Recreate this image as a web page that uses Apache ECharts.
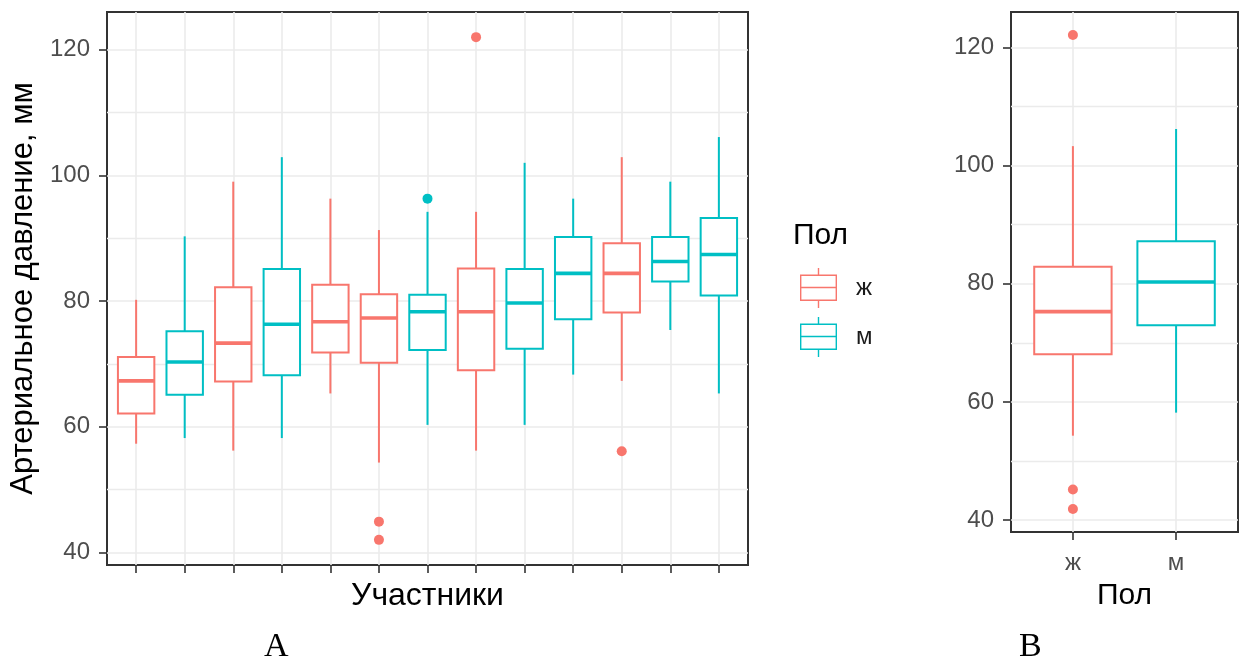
<!DOCTYPE html>
<html>
<head>
<meta charset="utf-8">
<script src="https://cdn.jsdelivr.net/npm/echarts@6/dist/echarts.min.js"></script>
<style>
html,body{margin:0;padding:0;background:#fff;}
#chart{width:1248px;height:663px;}
</style>
</head>
<body>
<div id="chart"></div>
<script>
// ---------- Data ----------
// Panel A: participants (13 boxes), sex of each participant
const groupA = ['ж','м','ж','м','ж','ж','м','ж','м','м','ж','м','м'];
const lowA   = [57.3, 58.2, 56.2, 58.2, 65.3, 54.3, 60.3, 56.2, 60.3, 68.3, 67.3, 75.4, 65.3];
const q1A    = [62.1, 65.1, 67.2, 68.2, 71.8, 70.2, 72.2, 69.0, 72.4, 77.1, 78.2, 83.1, 80.9];
const medA   = [67.3, 70.3, 73.3, 76.3, 76.7, 77.3, 78.3, 78.3, 79.7, 84.4, 84.4, 86.3, 87.4];
const q3A    = [71.1, 75.2, 82.2, 85.1, 82.6, 81.1, 81.0, 85.2, 85.1, 90.2, 89.2, 90.2, 93.2];
const highA  = [80.2, 90.3, 99.0, 102.9, 96.3, 91.3, 94.2, 94.2, 102.0, 96.3, 102.9, 99.0, 106.1];
const outIdxA = [5, 5, 6, 7, 10];
const outValA = [44.9, 42.0, 96.3, 122.0, 56.1];

// Panel B: by sex
const sexes  = ['ж','м'];
const lowB   = [54.3, 58.2];
const q1B    = [68.1, 73.0];
const medB   = [75.3, 80.3];
const q3B    = [82.9, 87.2];
const highB  = [103.3, 106.2];
const outIdxB = [0, 0, 0];
const outValB = [122.1, 45.2, 41.9];

const yMajorTicks = [40, 60, 80, 100, 120];
const yMinorTicks = [50, 70, 90, 110];
const yMin = 38, yMax = 126;

// ---------- Styles ----------
const COLORS = {'ж': '#F8766D', 'м': '#00BFC4'};
const FONT = 'Liberation Sans, Arial, sans-serif';
const GRID_COLOR = '#EBEBEB';
const BOX_W = 0.75;

function boxData(xs, lo, q1, md, q3, hi, groups, g) {
  const out = [];
  xs.forEach((x, i) => {
    if (groups[i] === g) out.push([x, lo[i], q1[i], md[i], q3[i], hi[i]]);
  });
  return out;
}
function outData(idx, vals, groups, g) {
  const out = [];
  idx.forEach((x, i) => { if (groups[x] === g) out.push([x, vals[i]]); });
  return out;
}

function renderBox(params, api) {
  const x = api.value(0);
  const lo = api.coord([x, api.value(1)]);
  const q1 = api.coord([x, api.value(2)]);
  const md = api.coord([x, api.value(3)]);
  const q3 = api.coord([x, api.value(4)]);
  const hi = api.coord([x, api.value(5)]);
  const half = api.size([BOX_W, 0])[0] / 2;
  const color = api.visual('color');
  return {
    type: 'group',
    children: [
      {type: 'line', shape: {x1: lo[0], y1: lo[1], x2: q1[0], y2: q1[1]}, style: {stroke: color, lineWidth: 2}},
      {type: 'line', shape: {x1: q3[0], y1: q3[1], x2: hi[0], y2: hi[1]}, style: {stroke: color, lineWidth: 2}},
      {type: 'rect', shape: {x: q3[0] - half, y: q3[1], width: 2 * half, height: q1[1] - q3[1]},
        style: {fill: '#ffffff', stroke: color, lineWidth: 2}},
      {type: 'line', shape: {x1: md[0] - half, y1: md[1], x2: md[0] + half, y2: md[1]},
        style: {stroke: color, lineWidth: 3.6}}
    ]
  };
}

const xsA = groupA.map((_, i) => i);
const xsB = sexes.map((_, i) => i);

function yAxisMajor(gridIndex) {
  return {
    type: 'value', gridIndex, min: yMin, max: yMax,
    axisLine: {show: false, onZero: false},
    axisTick: {show: true, length: 8, customValues: yMajorTicks, lineStyle: {color: '#333333', width: 1.6}},
    axisLabel: {show: true, customValues: yMajorTicks, margin: 17, fontSize: 24, color: '#4D4D4D', fontFamily: FONT},
    splitLine: {show: true, lineStyle: {color: GRID_COLOR, width: 1.6}}
  };
}
function yAxisMinor(gridIndex) {
  return {
    type: 'value', gridIndex, min: yMin, max: yMax,
    axisLine: {show: false, onZero: false},
    axisTick: {show: false, customValues: yMinorTicks},
    axisLabel: {show: false, customValues: yMinorTicks},
    splitLine: {show: true, lineStyle: {color: GRID_COLOR, width: 1.4}}
  };
}

const ICON = 'path://M17.8 0H19.2V6.5H17.8Z M0 6.5H37V7.9H0Z M0 31.6H37V33H0Z M0 6.5H1.4V33H0Z M35.6 6.5H37V33H35.6Z M0 18.8H37V20.2H0Z M17.8 33H19.2V40H17.8Z';

const option = {
  animation: false,
  backgroundColor: '#ffffff',
  textStyle: {fontFamily: FONT},
  title: [
    {text: 'Пол', left: 793, top: 221, padding: 0,
      textStyle: {fontSize: 30, fontWeight: 'normal', color: '#000', fontFamily: FONT}},
    {text: 'A', left: 264, top: 630, padding: 0,
      textStyle: {fontSize: 34, fontWeight: 'normal', color: '#000', fontFamily: 'Liberation Serif, Times New Roman, serif'}},
    {text: 'B', left: 1019, top: 630, padding: 0,
      textStyle: {fontSize: 34, fontWeight: 'normal', color: '#000', fontFamily: 'Liberation Serif, Times New Roman, serif'}}
  ],
  legend: {
    orient: 'vertical', left: 800, top: 268, padding: 0,
    itemWidth: 37, itemHeight: 40, itemGap: 9,
    selectedMode: false,
    itemStyle: {borderWidth: 0},
    textStyle: {fontSize: 24, color: '#1a1a1a', fontFamily: FONT, padding: [5, 0, 0, 14]},
    data: sexes.map(s => ({name: s, icon: ICON}))
  },
  grid: [
    {left: 104, top: 12, width: 644, height: 553, show: true, borderColor: '#333333', borderWidth: 2, backgroundColor: '#fff'},
    {left: 1011, top: 12, width: 227, height: 520, show: true, borderColor: '#333333', borderWidth: 2, backgroundColor: '#fff'}
  ],
  xAxis: [
    {
      type: 'value', gridIndex: 0, min: -0.6, max: xsA.length - 1 + 0.6,
      name: 'Участники', nameLocation: 'middle', nameGap: 15,
      nameTextStyle: {fontSize: 32, color: '#000', fontFamily: FONT, verticalAlign: 'top'},
      axisLine: {show: false, onZero: false},
      axisTick: {show: true, length: 8, customValues: xsA, lineStyle: {color: '#333333', width: 1.6}},
      axisLabel: {show: false, customValues: xsA},
      splitLine: {show: true, lineStyle: {color: GRID_COLOR, width: 1.6}}
    },
    {
      type: 'value', gridIndex: 1, min: -0.6, max: xsB.length - 1 + 0.6,
      name: 'Пол', nameLocation: 'middle', nameGap: 49,
      nameTextStyle: {fontSize: 30, color: '#000', fontFamily: FONT, verticalAlign: 'top'},
      axisLine: {show: false, onZero: false},
      axisTick: {show: true, length: 8, customValues: xsB, lineStyle: {color: '#333333', width: 1.6}},
      axisLabel: {show: true, customValues: xsB, margin: 19, fontSize: 24, color: '#4D4D4D', fontFamily: FONT,
        formatter: v => sexes[Math.round(v)]},
      splitLine: {show: true, lineStyle: {color: GRID_COLOR, width: 1.6}}
    }
  ],
  yAxis: [
    Object.assign(yAxisMajor(0), {
      name: 'Артериальное давление, мм', nameLocation: 'middle', nameGap: 68, nameRotate: 90,
      nameTextStyle: {fontSize: 31, color: '#000', fontFamily: FONT}
    }),
    yAxisMinor(0),
    yAxisMajor(1),
    yAxisMinor(1)
  ],
  series: []
};

sexes.forEach(s => {
  option.series.push({
    name: s, type: 'custom', xAxisIndex: 0, yAxisIndex: 0,
    itemStyle: {color: COLORS[s]},
    renderItem: renderBox,
    encode: {x: 0, y: [1, 2, 3, 4, 5]},
    data: boxData(xsA, lowA, q1A, medA, q3A, highA, groupA, s)
  });
});
sexes.forEach(s => {
  option.series.push({
    name: s, type: 'custom', xAxisIndex: 1, yAxisIndex: 2,
    itemStyle: {color: COLORS[s]},
    renderItem: renderBox,
    encode: {x: 0, y: [1, 2, 3, 4, 5]},
    data: boxData(xsB, lowB, q1B, medB, q3B, highB, sexes, s)
  });
});
sexes.forEach(s => {
  option.series.push({
    name: s, type: 'scatter', xAxisIndex: 0, yAxisIndex: 0,
    symbolSize: 10, itemStyle: {color: COLORS[s], opacity: 1},
    data: outData(outIdxA, outValA, groupA, s)
  });
  option.series.push({
    name: s, type: 'scatter', xAxisIndex: 1, yAxisIndex: 2,
    symbolSize: 10, itemStyle: {color: COLORS[s], opacity: 1},
    data: outData(outIdxB, outValB, sexes, s)
  });
});

const chart = echarts.init(document.getElementById('chart'), null, {renderer: 'canvas'});
chart.setOption(option);
</script>
</body>
</html>
